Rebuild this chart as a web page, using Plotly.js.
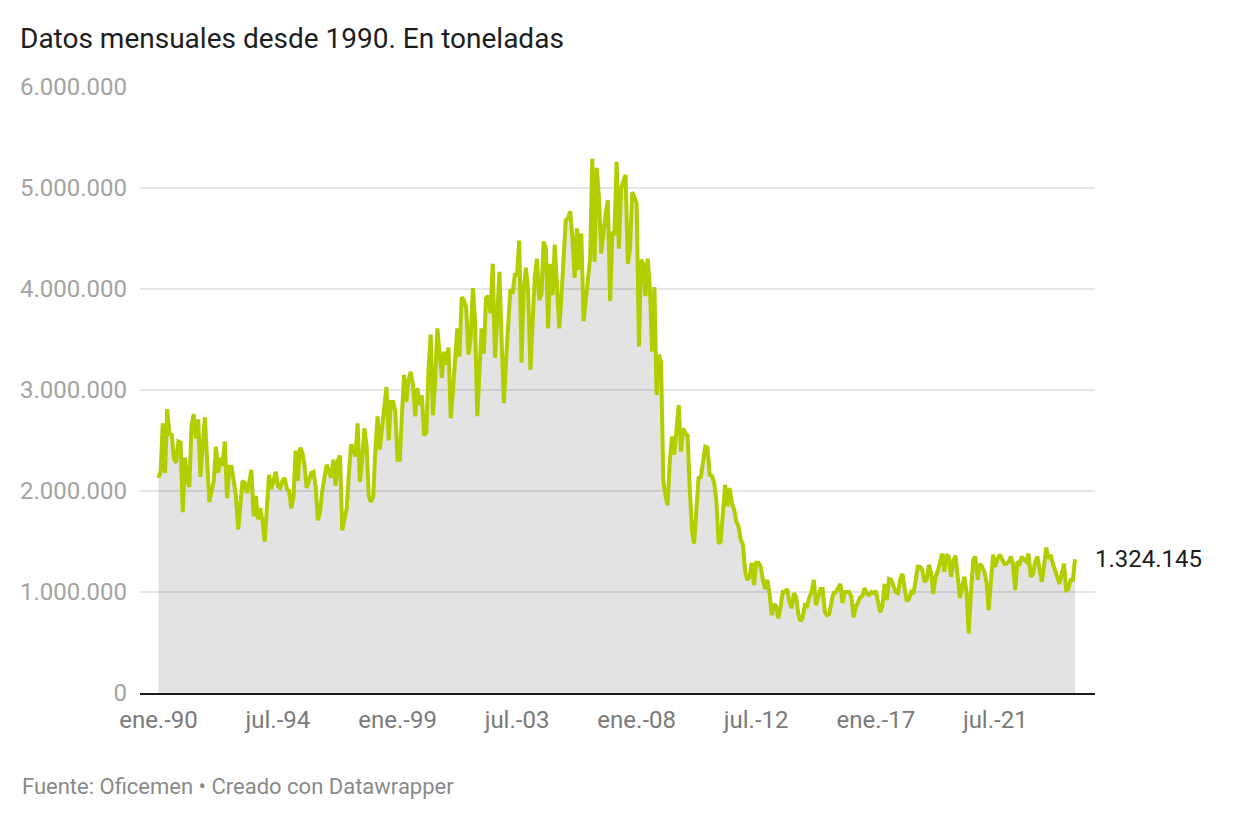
<!DOCTYPE html>
<html>
<head>
<meta charset="utf-8">
<script src="https://cdn.plot.ly/plotly-3.0.1.min.js"></script>
<style>
  html, body { margin: 0; padding: 0; background: #fff; }
  #grafico { width: 1240px; height: 820px; }
</style>
</head>
<body>
<div id="grafico"></div>
<script>
  // Consumo mensual de cemento (toneladas), ene. 1990 - jul. 2024
  const inicio = { anio: 1990, mes: 1 };

  const valores1990s = [
    2130000, 2200000, 2670000, 2180000, 2810000, 2550000, 2570000, 2320000, 2280000, 2490000, 2480000, 1790000,
    2330000, 2100000, 2040000, 2650000, 2760000, 2520000, 2710000, 2140000, 2450000, 2730000, 2300000, 1890000,
    2000000, 2100000, 2440000, 2180000, 2330000, 2250000, 2490000, 1930000, 2240000, 2240000, 2100000, 1950000,
    1620000, 1860000, 2100000, 2080000, 1980000, 2080000, 2210000, 1750000, 1950000, 1720000, 1830000, 1700000,
    1500000, 1850000, 2160000, 2020000, 2100000, 2190000, 2050000, 2030000, 2100000, 2130000, 2020000, 2000000,
    1830000, 1950000, 2400000, 2100000, 2430000, 2380000, 2260000, 2030000, 2100000, 2180000, 2190000, 2050000,
    1710000, 1790000, 2000000, 2120000, 2260000, 2200000, 2130000, 2310000, 2050000, 2300000, 2350000, 1610000,
    1720000, 1830000, 2150000, 2460000, 2420000, 2340000, 2670000, 2090000, 2300000, 2620000, 2450000, 1950000,
    1890000, 1950000, 2400000, 2740000, 2410000, 2600000, 2800000, 3030000, 2500000, 2880000, 2880000, 2790000,
    2310000, 2310000, 2750000, 3150000, 2880000, 3100000, 3180000, 3050000, 2740000, 3020000, 2850000, 2950000
  ];

  const valores2000s = [
    2550000, 2580000, 3200000, 3550000, 2750000, 3100000, 3610000, 3300000, 3120000, 3380000, 3250000, 3420000,
    2720000, 3000000, 3300000, 3610000, 3330000, 3920000, 3890000, 3820000, 3350000, 3500000, 4010000, 3690000,
    2740000, 3300000, 3610000, 3360000, 3910000, 3930000, 3760000, 4250000, 3320000, 3700000, 4170000, 3500000,
    2870000, 3300000, 3700000, 4000000, 3950000, 4140000, 4140000, 4480000, 3270000, 4000000, 4210000, 3980000,
    3200000, 3750000, 4120000, 4300000, 3890000, 3950000, 4470000, 4400000, 3610000, 4250000, 3940000, 4440000,
    4000000, 3610000, 3900000, 4300000, 4680000, 4700000, 4770000, 4500000, 4110000, 4600000, 4190000, 4550000,
    3680000, 3900000, 4090000, 4300000, 5290000, 4270000, 5200000, 4900000, 4350000, 4600000, 4750000, 4880000,
    3880000, 4550000, 4550000, 5260000, 4400000, 5000000, 5060000, 5130000, 4250000, 4390000, 4960000, 4900000,
    4850000, 3430000, 4290000, 4250000, 3930000, 4300000, 4000000, 3380000, 4020000, 2950000, 3350000, 3280000,
    2100000, 1950000, 1860000, 2300000, 2540000, 2360000, 2640000, 2850000, 2390000, 2620000, 2570000, 2550000
  ];

  const valores2010s = [
    2000000, 1600000, 1480000, 1750000, 2130000, 2140000, 2300000, 2440000, 2430000, 2160000, 2150000, 2080000,
    1900000, 1480000, 1500000, 1750000, 2060000, 1850000, 2030000, 1880000, 1820000, 1700000, 1650000, 1520000,
    1470000, 1200000, 1120000, 1150000, 1290000, 1070000, 1290000, 1290000, 1250000, 1120000, 1030000, 1120000,
    980000, 770000, 880000, 860000, 740000, 850000, 1000000, 1000000, 1030000, 900000, 840000, 990000,
    950000, 780000, 710000, 750000, 870000, 860000, 950000, 1000000, 1120000, 870000, 950000, 1030000,
    1030000, 800000, 770000, 780000, 900000, 990000, 1000000, 1050000, 1080000, 890000, 1000000, 1000000,
    1000000, 950000, 750000, 850000, 910000, 950000, 960000, 1040000, 980000, 970000, 1000000, 990000,
    1010000, 880000, 800000, 860000, 1080000, 920000, 1130000, 1120000, 1050000, 1000000, 990000, 1120000,
    1180000, 1050000, 910000, 930000, 1000000, 980000, 1150000, 1250000, 1250000, 1220000, 1100000, 1120000,
    1270000, 1180000, 980000, 1150000, 1200000, 1280000, 1380000, 1200000, 1370000, 1350000, 1150000, 1300000
  ];

  const valores2020s = [
    1360000, 1150000, 940000, 1050000, 1150000, 1000000, 590000, 1000000, 1320000, 1350000, 1120000, 1280000,
    1250000, 1200000, 1100000, 820000, 1150000, 1370000, 1250000, 1330000, 1370000, 1320000, 1280000, 1280000,
    1300000, 1350000, 1280000, 1020000, 1300000, 1280000, 1350000, 1320000, 1300000, 1380000, 1150000, 1180000,
    1300000, 1350000, 1250000, 1100000, 1250000, 1440000, 1330000, 1370000, 1280000, 1220000, 1150000, 1080000,
    1180000, 1280000, 1020000, 1030000, 1120000, 1120000, 1324145
  ];

  const fechasTicks = ['1990-01-01', '1994-07-01', '1999-01-01', '2003-07-01',
                       '2008-01-01', '2012-07-01', '2017-01-01', '2021-07-01'];
  const textosTicks = ['ene.-90', 'jul.-94', 'ene.-99', 'jul.-03',
                       'ene.-08', 'jul.-12', 'ene.-17', 'jul.-21'];

  const valores = valores1990s.concat(valores2000s, valores2010s, valores2020s);

  // una fecha por mes desde el inicio
  const fechas = valores.map((v, i) => {
    const total = (inicio.mes - 1) + i;
    const anio = inicio.anio + Math.floor(total / 12);
    const mes = (total % 12) + 1;
    return anio + '-' + String(mes).padStart(2, '0') + '-01';
  });

  function formatoES(n) {
    return String(Math.round(n)).replace(/\B(?=(\d{3})+(?!\d))/g, '.');
  }

  const ultimo = valores.length - 1;

  const traza = {
    x: fechas,
    y: valores,
    type: 'scatter',
    mode: 'lines',
    fill: 'tozeroy',
    fillcolor: 'rgba(0,0,0,0.11)',
    line: { color: '#b3ce00', width: 4, shape: 'linear' },
    hoverinfo: 'skip'
  };

  const layout = {
    width: 1240,
    height: 820,
    margin: { l: 140, r: 145, t: 87, b: 127 },
    paper_bgcolor: '#ffffff',
    plot_bgcolor: '#ffffff',
    separators: ',.',
    font: { family: 'Roboto, sans-serif', color: '#222' },
    showlegend: false,
    title: {
      text: 'Datos mensuales desde 1990. En toneladas',
      font: { size: 28, color: '#1d1d1d', family: 'Roboto, sans-serif' },
      xref: 'container', yref: 'container',
      x: 20 / 1240, xanchor: 'left',
      y: 1 - 38 / 820, yanchor: 'middle'
    },
    xaxis: {
      type: 'date',
      range: ['1989-04-22', '2025-04-02'],
      tickvals: fechasTicks,
      ticktext: textosTicks,
      ticks: '',
      showgrid: false,
      zeroline: false,
      showline: true,
      linecolor: '#1a1a1a',
      linewidth: 2,
      ticklabelstandoff: 4,
      tickfont: { size: 24, color: '#7a7a7a' }
    },
    yaxis: {
      range: [0, 6000000],
      tick0: 0,
      dtick: 1000000,
      tickformat: ',d',
      ticks: '',
      showgrid: true,
      gridcolor: '#e6e6e6',
      gridwidth: 2,
      zeroline: false,
      showline: false,
      ticklabelstandoff: 12,
      tickfont: { size: 24, color: '#a3a3a3' }
    },
    annotations: [
      {
        x: fechas[ultimo],
        y: valores[ultimo],
        xref: 'x', yref: 'y',
        text: formatoES(valores[ultimo]),
        showarrow: false,
        xanchor: 'left',
        yanchor: 'middle',
        xshift: 18,
        font: { size: 24, color: '#1d1d1d' }
      },
      {
        x: (20 - 140) / 955,
        y: (693 - 786) / 606,
        xref: 'paper', yref: 'paper',
        text: 'Fuente: Oficemen • Creado con Datawrapper',
        showarrow: false,
        xanchor: 'left',
        yanchor: 'middle',
        font: { size: 22, color: '#8a8a8a' }
      }
    ]
  };

  Plotly.newPlot('grafico', [traza], layout, {
    staticPlot: true,
    displayModeBar: false
  });
</script>
</body>
</html>
